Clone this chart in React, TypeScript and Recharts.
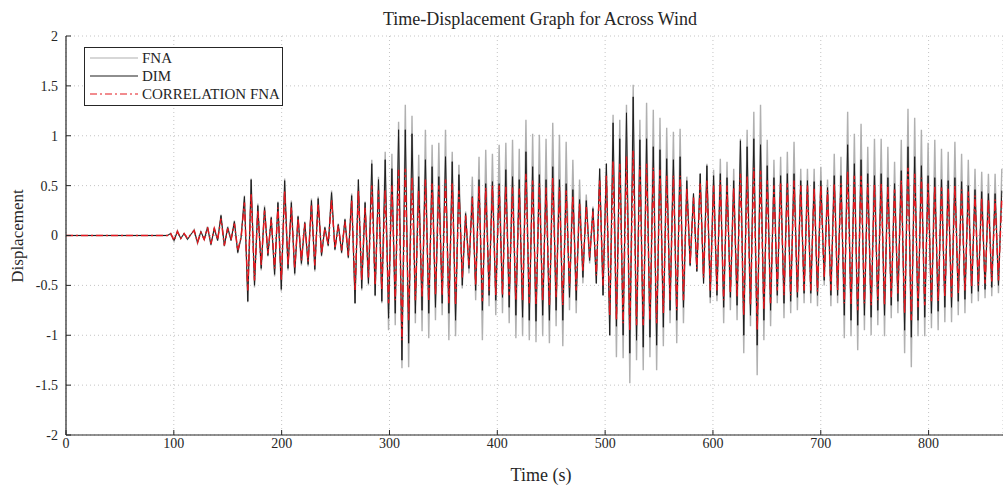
import {
  LineChart,
  Line,
  XAxis,
  YAxis,
  CartesianGrid,
  Legend,
} from "recharts";

// sampling grid of the read-off extrema (s)
const T_START = 90.9;
const T_STEP = 3.108;

const xTicks = [0, 100, 200, 300, 400, 500, 600, 700, 800];
const yTicks = [-2, -1.5, -1, -0.5, 0, 0.5, 1, 1.5, 2];

// FNA (light grey)
const fnaValues = [
  0, 0, 0.02, -0.06, 0.05, -0.03, 0.02, -0.04, 0.01, 0.06, -0.08, 0.04, -0.04, 0.09, -0.1, 0.08, -0.05, 0.21, -0.11, 0.09,
  -0.05, 0.15, -0.18, -0.02, 0.4, -0.67, 0.57,
  -0.52, 0.32, -0.35, 0.3, -0.21, 0.19, -0.41, 0.34, -0.56, 0.57, -0.35, 0.35, -0.4, 0.2, -0.3, 0.14, -0.31, 0.37, -0.36, 0.39,
  -0.21, 0.09, -0.11, 0.45, -0.15, 0.12, -0.18, 0.17, -0.23, 0.42,
  -0.68, 0.56, -0.55, 0.34, -0.5, 0.76, -0.61, 0.59, -0.68, 0.84, -0.95, 0.82, -0.9, 1.14, -1.33, 1.31, -1.32, 1.2, -0.88, 0.81,
  -0.96, 1.06, -1.03, 0.91, -0.85, 0.93, -0.8, 1.06, -1.05, 0.84, -1.01, 0.71, -0.53, 0.24, -0.38, 0.59, -0.65, 0.79, -1.05, 0.86,
  -0.71, 0.82, -0.8, 0.91, -0.78,
  0.93, -0.88, 0.96, -1.03, 0.87, -1.01, 1.16, -1.05, 1.02, -1.07, 1.01, -1.01, 0.97, -1.08, 1.13, -0.91, 1.01, -1.11, 0.94, -0.75,
  0.76, -0.78, 0.56, -0.48, 0.41, -0.28, 0.29, -0.48, 0.67, -0.6, 0.72, -1.0, 1.21, -1.22, 1.16, -1.23, 1.31, -1.48, 1.51, -1.25,
  1.16, -1.35, 1.33, -1.22, 1.26, -1.35, 1.18, -1.11, 1.08, -0.88, 1.04,
  -1.08, 1.07, -0.88, 0.59, -0.31, 0.42, -0.36, 0.62, -0.48, 0.72, -0.68, 0.66, -0.66, 0.77, -0.88, 0.74, -0.75, 0.67, -0.85, 0.97,
  -1.18, 1.06, -0.91, 1.24, -1.4, 1.31, -1.05, 0.96, -0.91, 0.76, -0.68, 0.79, -0.83, 0.84, -0.78, 0.94, -0.75, 0.67, -0.68, 0.67,
  -0.68, 0.67, -0.71, 0.69, -0.5, 0.56, -0.71, 0.82,
  -0.68, 0.79, -1.03, 1.24, -1.01, 1.02, -1.15, 1.12, -0.95, 0.89, -1.0, 0.97, -0.9, 0.97, -1.01, 0.89, -0.83, 0.74, -0.78, 0.96,
  -1.18, 1.27, -1.32, 1.18, -1.01, 1.06, -1.01, 0.93, -0.93, 0.96, -0.95, 0.87, -0.87, 0.84, -0.87, 0.94, -0.8, 0.82, -0.78, 0.76,
  -0.68, 0.67, -0.66, 0.64, -0.63, 0.62, -0.61, 0.62, -0.58, 0.67,
];

// DIM (black)
const dimValues = [
  0, 0, 0.02, -0.05, 0.04, -0.03, 0.02, -0.04, 0.01, 0.05, -0.07, 0.04, -0.04, 0.08, -0.09, 0.07, -0.05, 0.2, -0.1, 0.08,
  -0.05, 0.14, -0.17, -0.02, 0.39, -0.66, 0.56,
  -0.5, 0.3, -0.33, 0.28, -0.2, 0.18, -0.39, 0.33, -0.54, 0.55, -0.33, 0.33, -0.38, 0.19, -0.28, 0.13, -0.29, 0.35, -0.34, 0.37,
  -0.2, 0.08, -0.1, 0.43, -0.14, 0.11, -0.17, 0.16, -0.22, 0.4,
  -0.68, 0.56, -0.53, 0.33, -0.48, 0.72, -0.6, 0.56, -0.66, 0.76, -0.83, 0.67, -0.78, 1.06, -1.25, 1.06, -1.08, 1.02, -0.78, 0.59,
  -0.75, 0.76, -0.78, 0.69, -0.72, 0.59, -0.68, 0.79, -0.78, 0.74, -0.85, 0.61, -0.5, 0.22, -0.33, 0.39, -0.55, 0.56, -0.75, 0.52,
  -0.6, 0.54, -0.65, 0.52, -0.62,
  0.66, -0.72, 0.59, -0.8, 0.56, -0.82, 0.84, -0.85, 0.69, -0.86, 0.61, -0.8, 0.56, -0.85, 0.69, -0.75, 0.56, -0.85, 0.52, -0.62,
  0.46, -0.65, 0.36, -0.42, 0.35, -0.25, 0.27, -0.48, 0.67, -0.6, 0.72, -1.0, 1.13, -0.91, 0.97, -1.0, 1.23, -1.18, 1.39, -1.05,
  0.96, -1.12, 0.97, -1.02, 0.89, -1.1, 0.86, -0.92, 0.77, -0.75, 0.76,
  -0.85, 0.79, -0.72, 0.55, -0.3, 0.42, -0.36, 0.62, -0.48, 0.7, -0.62, 0.6, -0.6, 0.62, -0.72, 0.58, -0.62, 0.55, -0.7, 0.95,
  -1.0, 0.89, -0.8, 0.97, -1.1, 0.91, -0.85, 0.7, -0.75, 0.58, -0.6, 0.6, -0.68, 0.62, -0.66, 0.62, -0.62, 0.55, -0.58, 0.55,
  -0.58, 0.54, -0.6, 0.55, -0.45, 0.48, -0.6, 0.6,
  -0.6, 0.6, -0.8, 0.91, -0.85, 0.72, -0.9, 0.76, -0.8, 0.62, -0.82, 0.6, -0.75, 0.62, -0.8, 0.58, -0.7, 0.52, -0.66, 0.65,
  -0.95, 0.89, -1.02, 0.79, -0.85, 0.7, -0.82, 0.6, -0.78, 0.58, -0.76, 0.56, -0.72, 0.55, -0.72, 0.58, -0.66, 0.54, -0.64, 0.5,
  -0.58, 0.46, -0.56, 0.44, -0.54, 0.42, -0.52, 0.42, -0.5, 0.45,
];

// CORRELATION FNA (red dash-dot)
const corrValues = [
  0, 0, 0.02, -0.05, 0.04, -0.03, 0.02, -0.03, 0.01, 0.05, -0.07, 0.03, -0.04, 0.08, -0.08, 0.07, -0.04, 0.17, -0.1, 0.07,
  -0.04, 0.12, -0.15, -0.02, 0.33, -0.55, 0.42,
  -0.45, 0.25, -0.3, 0.25, -0.18, 0.16, -0.33, 0.28, -0.45, 0.45, -0.3, 0.28, -0.33, 0.17, -0.25, 0.12, -0.26, 0.3, -0.3, 0.32,
  -0.18, 0.07, -0.09, 0.36, -0.13, 0.1, -0.15, 0.14, -0.2, 0.35,
  -0.55, 0.45, -0.45, 0.28, -0.42, 0.5, -0.5, 0.45, -0.55, 0.46, -0.68, 0.5, -0.65, 0.66, -1.05, 0.67, -0.85, 0.59, -0.65, 0.45,
  -0.62, 0.56, -0.66, 0.52, -0.6, 0.5, -0.6, 0.56, -0.68, 0.52, -0.7, 0.45, -0.42, 0.2, -0.3, 0.38, -0.5, 0.5, -0.66, 0.48,
  -0.55, 0.5, -0.6, 0.5, -0.6,
  0.5, -0.6, 0.48, -0.65, 0.47, -0.66, 0.62, -0.68, 0.55, -0.7, 0.52, -0.66, 0.48, -0.7, 0.58, -0.62, 0.48, -0.7, 0.45, -0.52,
  0.4, -0.55, 0.32, -0.36, 0.3, -0.22, 0.24, -0.4, 0.55, -0.5, 0.6, -0.8, 0.75, -0.85, 0.72, -0.88, 0.8, -0.95, 0.85, -0.9,
  0.7, -0.9, 0.72, -0.85, 0.68, -0.88, 0.66, -0.78, 0.6, -0.65, 0.6,
  -0.75, 0.6, -0.65, 0.48, -0.28, 0.38, -0.33, 0.52, -0.42, 0.55, -0.55, 0.5, -0.55, 0.55, -0.65, 0.5, -0.58, 0.48, -0.62, 0.62,
  -0.8, 0.6, -0.7, 0.68, -0.95, 0.65, -0.75, 0.55, -0.68, 0.5, -0.55, 0.52, -0.6, 0.52, -0.6, 0.55, -0.58, 0.5, -0.55, 0.5,
  -0.55, 0.48, -0.56, 0.5, -0.42, 0.45, -0.55, 0.52,
  -0.55, 0.52, -0.68, 0.65, -0.7, 0.6, -0.75, 0.6, -0.68, 0.52, -0.7, 0.52, -0.65, 0.52, -0.7, 0.5, -0.62, 0.46, -0.58, 0.55,
  -0.78, 0.68, -0.85, 0.62, -0.72, 0.58, -0.7, 0.52, -0.66, 0.5, -0.66, 0.48, -0.62, 0.48, -0.62, 0.5, -0.58, 0.46, -0.56, 0.44,
  -0.52, 0.4, -0.5, 0.38, -0.48, 0.36, -0.46, 0.36, -0.45, 0.38,
];

const legendItems = [
  { name: "FNA", color: "#b0b0b0", dash: undefined },
  { name: "DIM", color: "#1e1e1e", dash: undefined },
  { name: "CORRELATION FNA", color: "#e3181f", dash: "7 3 2 3" },
];

const data = [
  { t: 0, fna: 0, dim: 0, corr: 0 },
  ...fnaValues.map((v, i) => ({
    t: +(T_START + i * T_STEP).toFixed(2),
    fna: v,
    dim: dimValues[i],
    corr: corrValues[i],
  })),
];

const FONT = "'Liberation Serif', 'Times New Roman', serif";
const INK = "#262626";

function LegendBox() {
  return (
    <div
      style={{
        width: 197,
        height: 56,
        border: `1px solid ${INK}`,
        background: "#fff",
        fontFamily: FONT,
        fontSize: 15,
        color: INK,
        paddingTop: 1,
        boxSizing: "content-box",
      }}
    >
      {legendItems.map((it) => (
        <div key={it.name} style={{ display: "flex", alignItems: "center", height: 18 }}>
          <svg width={53} height={10} style={{ marginLeft: 4 }}>
            <line x1={1} y1={5} x2={49} y2={5} stroke={it.color} strokeWidth={1.2} strokeDasharray={it.dash} />
          </svg>
          <span style={{ lineHeight: "18px" }}>{it.name}</span>
        </div>
      ))}
    </div>
  );
}

export default function App() {
  return (
    <div style={{ position: "absolute", left: 0, top: 0, width: 1003, height: 485, background: "#fff", overflow: "hidden" }}>
      <div
        style={{
          position: "absolute",
          left: 0,
          width: 1080,
          top: 9,
          textAlign: "center",
          fontFamily: FONT,
          fontSize: 18,
          color: INK,
        }}
      >
        Time-Displacement Graph for Across Wind
      </div>
      <div
        style={{
          position: "absolute",
          left: 18,
          top: 236,
          transform: "translate(-50%, -50%) rotate(-90deg)",
          fontFamily: FONT,
          fontSize: 17,
          color: INK,
          whiteSpace: "nowrap",
        }}
      >
        Displacement
      </div>
      <div
        style={{
          position: "absolute",
          left: 541,
          top: 475,
          transform: "translate(-50%, -50%)",
          fontFamily: FONT,
          fontSize: 18,
          color: INK,
          whiteSpace: "nowrap",
        }}
      >
        Time (s)
      </div>
      <LineChart
        width={1003}
        height={485}
        data={data}
        margin={{ top: 36, right: 0, left: 0, bottom: 0 }}
        style={{ position: "absolute", left: 0, top: 0 }}
      >
        <CartesianGrid stroke="#c4c4c4" strokeDasharray="1 3" />
        <XAxis
          dataKey="t"
          type="number"
          domain={[0, 869]}
          ticks={xTicks}
          allowDataOverflow
          height={50}
          axisLine={{ stroke: INK, strokeWidth: 1.2 }}
          tickLine={{ stroke: INK }}
          tickSize={-5}
          tickMargin={8}
          tick={{ fill: INK, fontFamily: FONT, fontSize: 14 }}
        />
        <XAxis
          xAxisId="top"
          orientation="top"
          dataKey="t"
          type="number"
          domain={[0, 869]}
          ticks={xTicks}
          allowDataOverflow
          height={0}
          axisLine={{ stroke: INK, strokeWidth: 1.2 }}
          tickLine={{ stroke: INK }}
          tickSize={-5}
          tick={false}
        />
        <YAxis
          type="number"
          domain={[-2, 2]}
          ticks={yTicks}
          allowDataOverflow
          width={66}
          axisLine={{ stroke: INK, strokeWidth: 1.2 }}
          tickLine={{ stroke: INK }}
          tickSize={-5}
          tickMargin={13}
          tick={{ fill: INK, fontFamily: FONT, fontSize: 14 }}
        />
        <Legend
          layout="horizontal"
          align="center"
          verticalAlign="middle"
          wrapperStyle={{ left: 84, top: 47, width: "auto", height: "auto" }}
          content={() => <LegendBox />}
        />
        <Line
          type="linear"
          dataKey="fna"
          stroke="#b0b0b0"
          strokeWidth={1.4}
          dot={false}
          isAnimationActive={false}
        />
        <Line
          type="linear"
          dataKey="dim"
          stroke="#1e1e1e"
          strokeWidth={1}
          dot={false}
          isAnimationActive={false}
        />
        <Line
          type="linear"
          dataKey="corr"
          stroke="#e3181f"
          strokeWidth={1.5}
          strokeDasharray="7 3 2 3"
          dot={false}
          isAnimationActive={false}
        />
      </LineChart>
    </div>
  );
}
